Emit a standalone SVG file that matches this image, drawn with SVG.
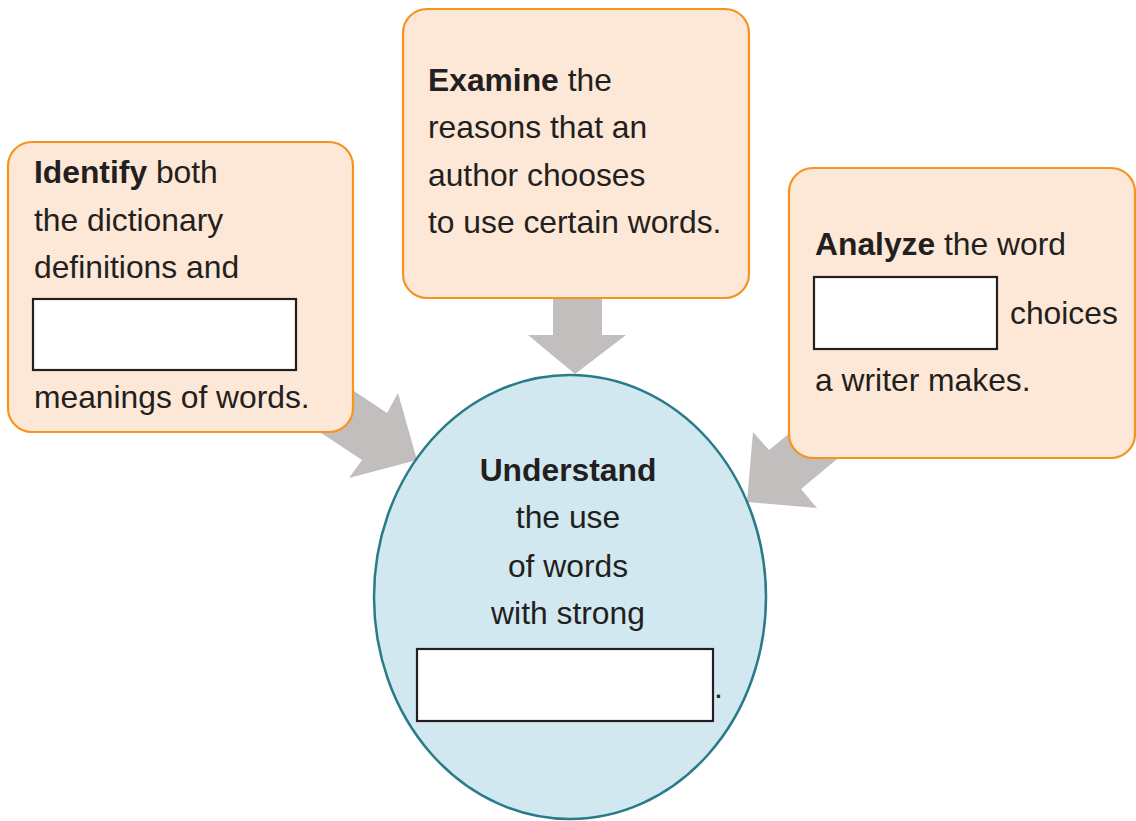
<svg xmlns="http://www.w3.org/2000/svg" width="1136" height="821" viewBox="0 0 1136 821">
<style>
.box{fill:#fde7d6;stroke:#f7941d;stroke-width:2.2}
.arrow{fill:#c2bebd}
.blank{fill:#ffffff;stroke:#231f20;stroke-width:2.2}
text{font-family:"Liberation Sans",Arial,sans-serif;font-size:31.8px;fill:#231f20}
.b{font-weight:bold}
.c{text-anchor:middle}
</style>
<rect width="1136" height="821" fill="#ffffff"/>
<g id="connectors">
<polygon class="arrow" points="553,290 553,335 528,335 575,374 626,335 602,335 602,290"/>
<polygon class="arrow" points="330,375 387,413 398,393 417,460 349,478 362,460 300,419"/>
<polygon class="arrow" points="830,400 769,450 753,432 747,502 817,508 801,489 860,440"/>
</g>
<g id="node-identify">
<rect class="box" x="8" y="142" width="345" height="290" rx="24"/>
<text x="34" y="183"><tspan class="b">Identify</tspan> both</text>
<text x="34" y="231">the dictionary</text>
<text x="34" y="278">definitions and</text>
<rect class="blank" x="33" y="299" width="263" height="71"/>
<text x="34" y="408">meanings of words.</text>
</g>
<g id="node-examine">
<rect class="box" x="403" y="9" width="346" height="289" rx="24"/>
<text x="428" y="91"><tspan class="b">Examine</tspan> the</text>
<text x="428" y="138">reasons that an</text>
<text x="428" y="186">author chooses</text>
<text x="428" y="233">to use certain words.</text>
</g>
<g id="node-analyze">
<rect class="box" x="789" y="168" width="346" height="290" rx="24"/>
<text x="815" y="255"><tspan class="b">Analyze</tspan> the word</text>
<rect class="blank" x="814" y="277" width="183" height="72"/>
<text x="1010" y="324">choices</text>
<text x="815" y="391">a writer makes.</text>
</g>
<g id="node-understand">
<ellipse cx="570" cy="597" rx="196" ry="222" fill="#d1e8f0" stroke="#2a7b8a" stroke-width="2.5"/>
<text class="b c" x="568" y="481">Understand</text>
<text class="c" x="568" y="528">the use</text>
<text class="c" x="568" y="577">of words</text>
<text class="c" x="568" y="624">with strong</text>
<rect class="blank" x="417" y="649" width="296" height="72"/>
<text x="714" y="698">.</text>
</g>
</svg>
